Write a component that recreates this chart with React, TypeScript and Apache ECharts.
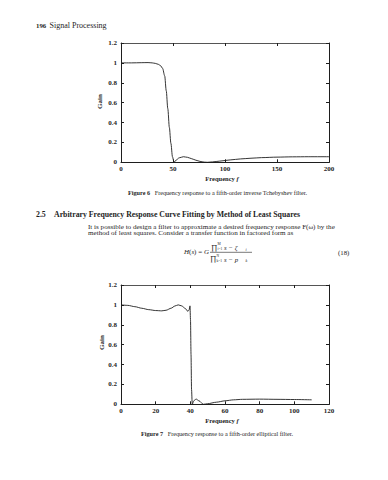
import React, { useEffect, useRef } from "react";
import * as echarts from "echarts";

// Figure 6: fifth-order inverse Tchebyshev filter
const fig6Freq = [0, 10, 20, 26, 30, 33, 36, 38, 40, 42, 43.5, 45, 46.5, 48, 49.5, 51, 53, 56, 60, 64, 68, 72, 76, 80, 83, 88, 95, 105, 115, 125, 135, 150, 165, 180, 200];
const fig6Gain = [1.0, 1.0, 1.002, 1.003, 1.0, 0.995, 0.985, 0.972, 0.945, 0.87, 0.72, 0.54, 0.35, 0.19, 0.055, 0.0, 0.022, 0.045, 0.056, 0.05, 0.036, 0.021, 0.009, 0.002, 0.0, 0.004, 0.012, 0.024, 0.034, 0.041, 0.047, 0.052, 0.055, 0.056, 0.056];

// Figure 7: fifth-order elliptical filter
const fig7Freq = [0, 4, 8, 12, 16, 20, 23.5, 26, 29, 31, 33, 35, 37, 38.6, 39.3, 39.8, 40.1, 40.4, 40.7, 41.1, 42, 43.3, 45, 47.5, 50, 55, 60, 65, 70, 80, 90, 100, 110];
const fig7Gain = [1.0, 0.995, 0.982, 0.966, 0.952, 0.943, 0.94, 0.946, 0.967, 0.988, 1.0, 0.99, 0.965, 0.935, 0.95, 0.99, 0.85, 0.5, 0.15, 0.0, 0.035, 0.053, 0.035, 0.0, 0.006, 0.021, 0.035, 0.045, 0.05, 0.052, 0.05, 0.048, 0.045];

const fig6X = { min: 0, max: 200, interval: 50 };
const fig7X = { min: 0, max: 120, interval: 20 };
const gainAxis = { min: 0, max: 1.2, interval: 0.2 };

const FONT = "Liberation Serif";
const INK = "#1e1e1e";

function axes(gridIndex: number, xr: { min: number; max: number; interval: number }) {
  const line = { show: true, onZero: false, lineStyle: { color: INK, width: 1 } };
  const tick = { show: true, inside: true, length: 3, lineStyle: { color: INK, width: 1 } };
  const lab = { fontFamily: FONT, fontSize: 7, fontWeight: "bold" as const, color: INK };
  const x = [
    { type: "value", gridIndex, position: "bottom", ...xr, axisLine: line, axisTick: tick, axisLabel: { ...lab, margin: 3 }, splitLine: { show: false } },
    { type: "value", gridIndex, position: "top", ...xr, axisLine: { ...line, lineStyle: { color: "#555", width: 1 } }, axisTick: tick, axisLabel: { show: false }, splitLine: { show: false } },
  ];
  const y = [
    { type: "value", gridIndex, position: "left", ...gainAxis, axisLine: line, axisTick: tick, axisLabel: { ...lab, margin: 4 }, splitLine: { show: false } },
    { type: "value", gridIndex, position: "right", ...gainAxis, axisLine: line, axisTick: tick, axisLabel: { show: false }, splitLine: { show: false } },
  ];
  return { x, y };
}

function txt(x: number, y: number, text: string, size: number, extra: any = {}, rich?: any) {
  return {
    type: "text",
    x,
    y,
    style: {
      text,
      fontFamily: FONT,
      fontSize: size,
      fill: INK,
      verticalAlign: "middle",
      align: "left",
      ...(rich ? { rich } : {}),
      ...extra,
    },
  };
}

function vtxt(x: number, y: number, text: string) {
  return {
    type: "text",
    x,
    y,
    rotation: Math.PI / 2,
    style: { text, fontFamily: FONT, fontSize: 7, fontWeight: "bold", fill: INK, align: "center", verticalAlign: "middle" },
  };
}

export default function App() {
  const ref = useRef<HTMLDivElement>(null);
  useEffect(() => {
    const chart = echarts.init(ref.current!, null, { renderer: "svg" });
    const a1 = axes(0, fig6X);
    const a2 = axes(1, fig7X);
    const richAxis = {
      b: { fontFamily: FONT, fontSize: 6.5, fontWeight: "bold", fill: INK },
      i: { fontFamily: FONT, fontSize: 6.5, fontStyle: "italic", fontWeight: "bold", fill: INK },
    };
    const richCap = {
      b: { fontFamily: FONT, fontSize: 6.2, fontWeight: "bold", fill: INK },
      r: { fontFamily: FONT, fontSize: 6.2, fill: INK },
    };
    const richEq = {
      r: { fontFamily: FONT, fontSize: 7, fill: INK },
      i: { fontFamily: FONT, fontSize: 7, fontStyle: "italic", fill: INK },
    };
    const option: any = {
      animation: false,
      backgroundColor: "#ffffff",
      grid: [
        { left: 121, top: 43, width: 208, height: 119.3, containLabel: false },
        { left: 121, top: 285, width: 208, height: 119.3, containLabel: false },
      ],
      xAxis: [...a1.x, ...a2.x],
      yAxis: [...a1.y, ...a2.y],
      series: [
        {
          type: "line",
          xAxisIndex: 0,
          yAxisIndex: 0,
          data: fig6Freq.map((f, i) => [f, fig6Gain[i]]),
          showSymbol: false,
          smooth: 0.3,
          smoothMonotone: "x",
          lineStyle: { color: INK, width: 0.9 },
        },
        {
          type: "line",
          xAxisIndex: 2,
          yAxisIndex: 2,
          data: fig7Freq.map((f, i) => [f, fig7Gain[i]]),
          showSymbol: false,
          smooth: 0.25,
          smoothMonotone: "x",
          lineStyle: { color: INK, width: 0.9 },
        },
      ],
      graphic: [
        // page header
        txt(36, 25, "196", 6.8, { fontWeight: "bold" }),
        txt(49.5, 25, "Signal Processing", 8),
        // figure 6 labels
        vtxt(100, 101.5, "Gain"),
        txt(222, 178, "{b|Frequency} {i|f}", 6.5, { align: "center" }, richAxis),
        txt(128, 192.7, "{b|Figure 6}   {r|Frequency response to a fifth-order inverse Tchebyshev filter.}", 6.2, {}, richCap),
        // section heading
        txt(36, 214, "2.5", 7.8, { fontWeight: "bold" }),
        txt(54, 214, "Arbitrary Frequency Response Curve Fitting by Method of Least Squares", 7.8, { fontWeight: "bold" }),
        txt(88, 226.5, "It is possible to design a filter to approximate a desired frequency response F(ω) by the", 7.1, { lineHeight: 6.4 }),
        txt(88, 233.3, "method of least squares. Consider a transfer function in factored form as", 7.1, { lineHeight: 6.4 }),
        // equation (18)
        txt(184, 252.3, "{i|H}{r|(}{i|s}{r|) = }{i|G}", 7, {}, richEq),
        txt(211, 247, "∏", 7.5),
        txt(217.5, 244.3, "M", 3.6),
        txt(217.5, 249.3, "i=1", 3.6),
        txt(224, 247.3, "s − ζ", 6.8, { fontStyle: "italic" }),
        txt(245.5, 249, "i", 4, { fontStyle: "italic" }),
        { type: "line", shape: { x1: 210, y1: 252.3, x2: 252, y2: 252.3 }, style: { stroke: INK, lineWidth: 0.6 } },
        txt(210, 258.7, "∏", 7.5),
        txt(216.5, 256, "N", 3.6),
        txt(216.5, 261, "k=1", 3.6),
        txt(224, 259, "s − p", 6.8, { fontStyle: "italic" }),
        txt(245.5, 260.6, "k", 4, { fontStyle: "italic" }),
        txt(338, 252.3, "(18)", 6.8),
        // figure 7 labels
        vtxt(102, 342.5, "Gain"),
        txt(222, 420, "{b|Frequency} {i|f}", 6.5, { align: "center" }, richAxis),
        txt(141, 433, "{b|Figure 7}   {r|Frequency response to a fifth-order elliptical filter.}", 6.2, {}, richCap),
      ],
    };
    chart.setOption(option);
    return () => chart.dispose();
  }, []);
  return (
    <div
      ref={ref}
      style={{ position: "absolute", left: 0, top: 0, width: 388, height: 480, background: "#fff" }}
    />
  );
}
